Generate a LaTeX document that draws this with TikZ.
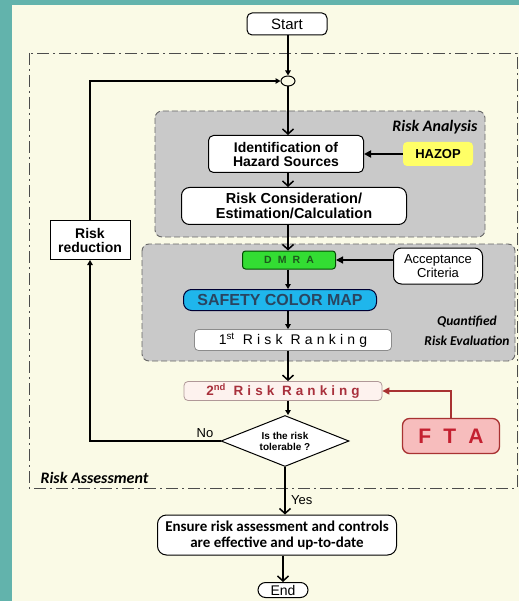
\documentclass[tikz,border=0pt]{standalone}
\usepackage{fontspec}
\setmainfont{Liberation Sans}
\newfontfamily\calfont{Carlito}
\newfontfamily\spacedfont[LetterSpace=30]{Liberation Sans}
\usetikzlibrary{arrows.meta,shapes.geometric}

\definecolor{bgteal}{HTML}{62B3AC}
\definecolor{bgcream}{HTML}{FAFAE6}
\definecolor{boxgray}{HTML}{C9C9C9}
\definecolor{hazopyellow}{HTML}{FFFF66}
\definecolor{dmragreen}{HTML}{33DD33}
\definecolor{dmratext}{HTML}{1C5A1C}
\definecolor{mapblue}{HTML}{1FB6EC}
\definecolor{maptext}{HTML}{2A4560}
\definecolor{rankpink}{HTML}{FDF2EE}
\definecolor{rankedge}{HTML}{B09898}
\definecolor{ranktext}{HTML}{A8303C}
\definecolor{ftapink}{HTML}{F7BDBD}
\definecolor{ftaedge}{HTML}{A83232}
\definecolor{ftared}{HTML}{C42030}
\newcommand\ordsup[1]{\textsuperscript{\rmfamily #1}}

\begin{document}
\begin{tikzpicture}[x=1pt,y=-1pt,
 every node/.style={font=\fontsize{13}{14}\selectfont},
 flowbox/.style={draw,line width=1pt,rounded corners=5pt,fill=white,align=center,inner sep=1pt},
 groupbox/.style={draw=black!60,line width=0.9pt,dash pattern=on 6pt off 3pt,fill=boxgray,rounded corners=7pt},
 grouplabel/.style={font=\calfont\bfseries\itshape\fontsize{16}{17}\selectfont},
 bigarrow/.style={line width=1.5pt,-{Straight Barb[length=5pt,width=11pt,line width=1.5pt]}},
 smallarrow/.style={line width=1.2pt,-{Triangle[length=5pt,width=5.5pt]}},
 headarrow/.style={line width=1.8pt,-{Triangle[length=7pt,width=7pt]}}]
\useasboundingbox (0,0) rectangle (519,601);
% background and group frames
\fill[bgteal] (0,0) rectangle (519,601);
\fill[bgcream] (12,5) rectangle (519,601);
\draw[black!70,line width=0.8pt,dash pattern=on 12pt off 4pt on 2pt off 4pt] (29,53) rectangle (517,488);
\draw[groupbox] (155,111) rectangle (485,237);
\draw[groupbox] (142,244) rectangle (515,361);
\coordinate (axis) at (288,0);
% nodes
\node[flowbox,minimum width=80pt,minimum height=22pt,font=\fontsize{15}{16}\selectfont] (start) at (287,24) {Start};
\node[draw,ellipse,line width=1pt,fill=bgcream,minimum width=14pt,minimum height=10pt,inner sep=0pt] (junc) at (288,81) {};
\node[flowbox,minimum width=155pt,minimum height=37pt,font=\bfseries\fontsize{14}{14}\selectfont] (ident) at (286,154) {Identification of\\Hazard Sources};
\node[flowbox,draw=none,fill=hazopyellow,rounded corners=4pt,minimum width=70pt,minimum height=24pt,font=\bfseries\fontsize{13}{14}\selectfont] (hazop) at (438,154) {HAZOP};
\node[flowbox,minimum width=225pt,minimum height=37pt,rounded corners=8pt,font=\bfseries\fontsize{14.5}{15.5}\selectfont] (consid) at (294,206) {Risk Consideration/\\Estimation/Calculation};
\node[flowbox,fill=dmragreen,draw=black!70!green,minimum width=93pt,minimum height=18pt,rounded corners=3pt,text=dmratext,font=\spacedfont\bfseries\fontsize{10.5}{11}\selectfont] (dmra) at (289,260) {D M R A};
\node[flowbox,minimum width=89pt,minimum height=36pt,rounded corners=8pt] (accept) at (438,266) {Acceptance\\Criteria};
\node[flowbox,fill=mapblue,draw=black!80!blue,minimum width=193pt,minimum height=21pt,rounded corners=8pt,text=maptext,font=\bfseries\fontsize{16}{17}\selectfont] (safety) at (280,300) {SAFETY COLOR MAP};
\node[flowbox,draw=black!45,line width=0.8pt,minimum width=197pt,minimum height=21pt,rounded corners=4pt,font=\spacedfont\fontsize{14}{15}\selectfont] (rank1) at (293,340) {1\ordsup{st} Risk Ranking};
\node[align=center,font=\calfont\bfseries\itshape\fontsize{13.5}{20}\selectfont] (qrelabel) at (467,331) {Quantified\\Risk Evaluation};
\node[flowbox,fill=rankpink,draw=rankedge,line width=0.8pt,minimum width=198pt,minimum height=19pt,rounded corners=4pt,text=ranktext,font=\spacedfont\bfseries\fontsize{13.5}{14}\selectfont] (rank2) at (283,391) {2\ordsup{nd} Risk Ranking};
\node[flowbox,fill=ftapink,draw=ftaedge,line width=1.3pt,minimum width=97pt,minimum height=35pt,rounded corners=7pt,text=ftared,font=\spacedfont\bfseries\fontsize{21}{22}\selectfont] (fta) at (451,436) {F T A};
\node[draw,diamond,line width=1pt,fill=white,aspect=2.5,minimum width=128pt,minimum height=51pt,inner sep=0pt,align=center,font=\bfseries\fontsize{10}{11}\selectfont] (decide) at (285,441) {Is the risk\\tolerable ?};
\node[draw,line width=1pt,fill=white,minimum width=80pt,minimum height=39pt,align=center,font=\bfseries\fontsize{14}{14}\selectfont] (reduce) at (90,240) {Risk\\reduction};
\node[flowbox,minimum width=239pt,minimum height=40pt,rounded corners=9pt,font=\calfont\bfseries\fontsize{15}{16}\selectfont] (ensure) at (277,535) {Ensure risk assessment and controls\\are effective and up-to-date};
\node[draw,line width=1pt,fill=white,rounded corners=7.5pt,minimum width=50pt,minimum height=15pt,inner sep=0pt,font=\fontsize{14}{15}\selectfont] (finish) at (283,590) {End};
\node[grouplabel,anchor=east] (analysislabel) at (481,127) {Risk Analysis};
\node[grouplabel,anchor=west] (assesslabel) at (37,478) {Risk Assessment};
\node (nolabel) at (205,433) {No};
% connectors
\draw[smallarrow] (start.south -| axis) -- (junc.north);
\draw[bigarrow] (junc.south) -- (ident.north -| axis);
\draw[bigarrow] (ident.south -| axis) -- (consid.north -| axis);
\draw[bigarrow] (consid.south -| axis) -- (dmra.north -| axis);
\draw[headarrow] (hazop) -- (ident);
\draw[headarrow,line width=1.2pt] (accept.west |- dmra) -- (dmra.east);
\draw[smallarrow] (dmra.south -| axis) -- (safety.north -| axis);
\draw[smallarrow] (safety.south -| axis) -- (rank1.north -| axis);
\draw[bigarrow] (rank1.south -| axis) -- (rank2.north -| axis);
\draw[smallarrow] (rank2.south -| axis) -- (decide.north -| axis);
\draw[headarrow,line width=1.3pt,ftaedge] (fta.north) |- (rank2.east);
\draw[smallarrow] (decide.west) -| (reduce.south);
\draw[smallarrow] (reduce.north) |- (junc.west);
\draw[bigarrow] (decide.south) -- (ensure.north -| decide) node[pos=0.7,anchor=west,xshift=2pt] {Yes};
\draw[bigarrow] (ensure.south -| finish) -- (finish.north);
\end{tikzpicture}
\end{document}
